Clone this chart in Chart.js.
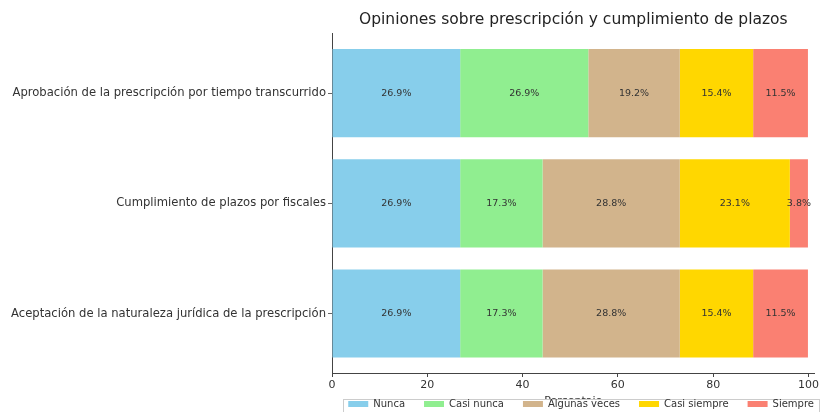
<!DOCTYPE html>
<html>
<head>
<meta charset="utf-8">
<script src="https://cdn.jsdelivr.net/npm/chart.js@4.4.0/dist/chart.umd.min.js"></script>
<style>
  html, body { margin: 0; padding: 0; background: #ffffff; }
  #wrap { width: 821px; height: 412px; overflow: hidden; }
</style>
</head>
<body>
<div id="wrap"><canvas id="c" width="821" height="412"></canvas></div>
<script>
const chartTitle = 'Opiniones sobre prescripción y cumplimiento de plazos';
const xAxisTitle = 'Porcentaje';
const categories = [
  'Aprobación de la prescripción por tiempo transcurrido',
  'Cumplimiento de plazos por fiscales',
  'Aceptación de la naturaleza jurídica de la prescripción'
];
const seriesNames = ['Nunca', 'Casi nunca', 'Algunas veces', 'Casi siempre', 'Siempre'];
const nunca        = [26.9, 26.9, 26.9];
const casiNunca    = [26.9, 17.3, 17.3];
const algunasVeces = [19.2, 28.8, 28.8];
const casiSiempre  = [15.4, 23.1, 15.4];
const siempre      = [11.5, 3.8, 11.5];
const xTicks = [0, 20, 40, 60, 80, 100];

const seriesValues = [nunca, casiNunca, algunasVeces, casiSiempre, siempre];
const seriesColors = ['#87CEEB', '#90EE90', '#D2B48C', '#FFD700', '#FA8072'];
const FONT = "'DejaVu Sans', sans-serif";

const datasets = seriesNames.map((name, s) => ({
  label: name,
  data: categories.map((c, i) => ({ x: seriesValues[s][i], y: i })),
  backgroundColor: seriesColors[s],
  borderWidth: 0,
  barPercentage: 0.8,
  categoryPercentage: 1.0
}));

const valueLabels = {
  id: 'valueLabels',
  afterDatasetsDraw(chart) {
    const ctx = chart.ctx;
    ctx.save();
    ctx.font = "9.5px " + FONT;
    ctx.fillStyle = '#333333';
    ctx.textAlign = 'center';
    ctx.textBaseline = 'middle';
    chart.data.datasets.forEach((ds, di) => {
      chart.getDatasetMeta(di).data.forEach((el, i) => {
        const p = el.getCenterPoint();
        ctx.fillText(ds.data[i].x.toFixed(1) + '%', p.x, p.y);
      });
    });
    ctx.restore();
  }
};

const legendFrame = {
  id: 'legendFrame',
  afterDraw(chart) {
    const lg = chart.legend;
    if (!lg || !lg.legendHitBoxes || !lg.legendHitBoxes.length) return;
    const hb = lg.legendHitBoxes;
    const first = hb[0], last = hb[hb.length - 1];
    const x0 = Math.round(first.left - 5) + 0.5;
    const x1 = Math.round(last.left + last.width + 5) + 0.5;
    const y0 = 399.5;
    const ctx = chart.ctx;
    ctx.save();
    ctx.fillStyle = '#ffffff';
    ctx.fillRect(x0, y0, x1 - x0, 30);
    ctx.strokeStyle = '#cccccc';
    ctx.lineWidth = 1;
    ctx.strokeRect(x0, y0, x1 - x0, 30);
    ctx.restore();
    lg.draw();
  }
};

new Chart(document.getElementById('c'), {
  type: 'bar',
  data: { datasets },
  plugins: [valueLabels, legendFrame],
  options: {
    indexAxis: 'y',
    responsive: false,
    animation: false,
    layout: { padding: { left: 0, right: -12, top: 0, bottom: -7 } },
    scales: {
      x: {
        type: 'linear',
        stacked: true,
        min: 0,
        max: 101.3,
        offset: false,
        afterBuildTicks(scale) { scale.ticks = xTicks.map(v => ({ value: v })); },
        afterFit(scale) { scale.height = 19; },
        grid: { display: true, drawOnChartArea: false, drawTicks: true, tickLength: 4, color: '#444444' },
        border: { display: true, color: '#444444', width: 1 },
        ticks: { font: { family: FONT, size: 11 }, color: '#333333', padding: 2, maxRotation: 0 },
        title: {
          display: true, text: xAxisTitle, color: '#333333',
          font: { family: FONT, size: 11 }, padding: { top: 0, bottom: -15.6 }
        }
      },
      y: {
        type: 'linear',
        stacked: true,
        reverse: true,
        min: -0.54,
        max: 2.54,
        bounds: 'data',
        offset: false,
        afterBuildTicks(scale) { scale.ticks = categories.map((c, i) => ({ value: i })); },
        afterFit(scale) { scale.width = 332; },
        grid: { display: true, offset: false, drawOnChartArea: false, drawTicks: true, tickLength: 4, color: '#666666' },
        border: { display: true, color: '#444444', width: 1 },
        ticks: {
          font: { family: FONT, size: 11.6 }, color: '#333333', padding: 2,
          callback: (v) => categories[v]
        }
      },
      yRightSpace: {
        type: 'linear',
        axis: 'y',
        position: 'right',
        min: 0,
        max: 1,
        afterFit(scale) { scale.width = 18; },
        grid: { display: false },
        border: { display: false },
        ticks: { display: false }
      }
    },
    plugins: {
      title: {
        display: true, text: chartTitle, fullSize: false,
        color: '#222222', font: { family: FONT, size: 15.5, weight: 'normal' },
        padding: { top: 11, bottom: 4 }
      },
      legend: {
        position: 'bottom', fullSize: true, align: 'end',
        title: { display: true, text: '', font: { family: FONT, size: 10 }, padding: { top: -12, bottom: -12 } },
        labels: {
          font: { family: FONT, size: 10 }, color: '#333333',
          boxWidth: 20, boxHeight: 6, padding: 19
        }
      },
      tooltip: { enabled: false }
    }
  }
});
</script>
</body>
</html>
